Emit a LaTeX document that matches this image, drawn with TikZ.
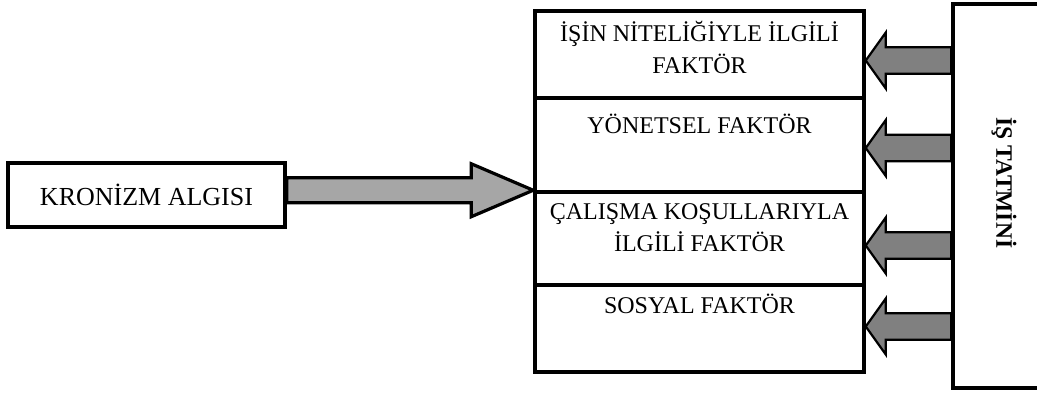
\documentclass[tikz,border=0pt]{standalone}
\usepackage{fontspec}
\setmainfont{Liberation Serif}
\usetikzlibrary{calc}
\definecolor{lightarrow}{HTML}{A6A6A6}
\definecolor{darkarrow}{HTML}{808080}
% #1 style, #2 start, #3 tip, #4 shaft half-height, #5 head half-height, #6 signed head length (pt)
\newcommand\fatarrow[6]{%
  \draw[#1] let \p1=(#2), \p2=(#3) in
    (\x1,{\y2+#4pt}) -- ({\x2+(#6pt)},{\y2+#4pt}) -- ({\x2+(#6pt)},{\y2+#5pt})
    -- (\x2,\y2) -- ({\x2+(#6pt)},{\y2-#5pt}) -- ({\x2+(#6pt)},{\y2-#4pt})
    -- (\x1,{\y2-#4pt}) -- cycle;}
\begin{document}
\begin{tikzpicture}[x=1pt,y=-1pt,
  box/.style={draw,line width=3.5pt,inner sep=0pt,fill=white},
  txt/.style={font=\fontsize{24}{31.5}\selectfont,align=center,anchor=base,inner sep=0pt},
  bigarrow/.style={draw,line width=3.2pt,fill=lightarrow,line join=miter},
  smallarrow/.style={draw,line width=2.2pt,fill=darkarrow,line join=miter}]
\useasboundingbox (0,0) rectangle (1037,398);
% boxes
\node[box,minimum width=277pt,minimum height=64pt,font=\fontsize{26}{30}\selectfont] (kron) at (146.5,195) {KRONİZM ALGISI};
\node[box,minimum width=329pt,minimum height=87pt] (s1) at (699.5,54.5) {};
\node[box,minimum width=329pt,minimum height=94pt] (s2) at (699.5,145) {};
\node[box,minimum width=329pt,minimum height=93pt] (s3) at (699.5,238.5) {};
\node[box,minimum width=329pt,minimum height=87pt] (s4) at (699.5,328.5) {};
\node[box,minimum width=97pt,minimum height=384pt] (tat) at (1001.5,196) {};
% texts (base anchor = baseline of the last line)
\node[txt] (t1) at ($(s1.north)+(0,64)$) {İŞİN NİTELİĞİYLE İLGİLİ\\FAKTÖR};
\node[txt] (t2) at ($(s2.north)+(0,37)$) {YÖNETSEL FAKTÖR};
\node[txt] (t3) at ($(s3.north)+(0,61)$) {ÇALIŞMA KOŞULLARIYLA\\İLGİLİ FAKTÖR};
\node[txt] (t4) at ($(s4.north)+(0,30)$) {SOSYAL FAKTÖR};
\node[font=\bfseries\fontsize{23.5}{28}\selectfont,rotate=-90,inner sep=0pt] (tt) at ($(tat.center)+(2.5,-13)$) {İŞ TATMİNİ};
% arrows
\coordinate (y1) at (0,60.5);
\coordinate (y2) at (0,148);
\coordinate (y3) at (0,245.5);
\coordinate (y4) at (0,326.5);
\fatarrow{bigarrow}{kron.east}{s3.north west}{12.5}{26.5}{-62}
\fatarrow{smallarrow}{tat.west |- y1}{s1.east |- y1}{13.3}{28}{20}
\fatarrow{smallarrow}{tat.west |- y2}{s2.east |- y2}{13.3}{28}{20}
\fatarrow{smallarrow}{tat.west |- y3}{s3.east |- y3}{13.3}{28}{20}
\fatarrow{smallarrow}{tat.west |- y4}{s4.east |- y4}{13.3}{28}{20}
\end{tikzpicture}
\end{document}
